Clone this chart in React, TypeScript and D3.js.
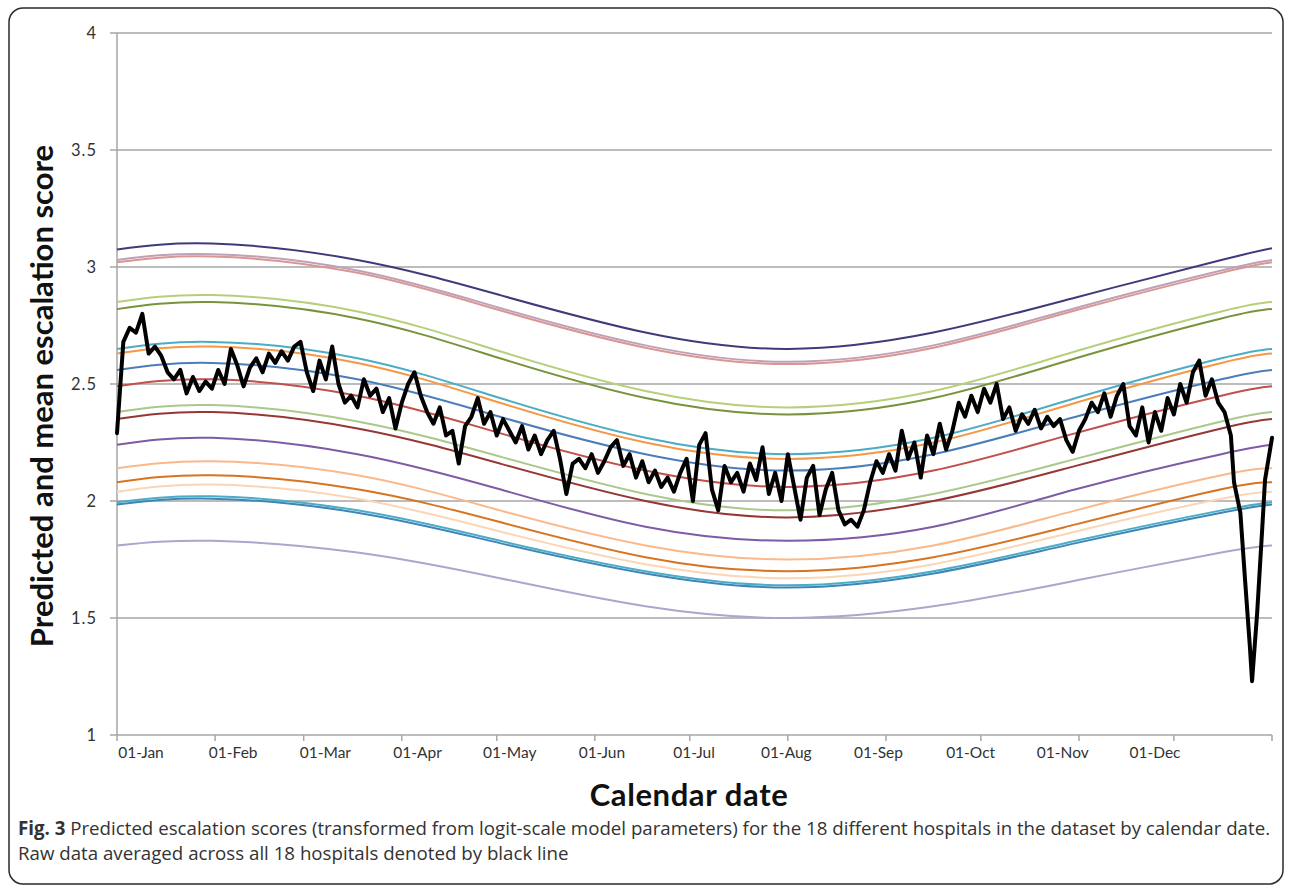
import * as d3 from 'd3';

const WIDTH = 1290;
const HEIGHT = 890;
const PLOT = { left: 117, right: 1272, top: 33, bottom: 735 };

// x axis: day of year, ticks at month starts, labels spread evenly
const MONTH_START_DAYS = [0, 31, 59, 90, 120, 151, 181, 212, 243, 273, 304, 334, 365];
const MONTH_LABELS = ['01-Jan', '01-Feb', '01-Mar', '01-Apr', '01-May', '01-Jun', '01-Jul', '01-Aug', '01-Sep', '01-Oct', '01-Nov', '01-Dec'];

const Y_TICKS = [1, 1.5, 2, 2.5, 3, 3.5, 4];
const Y_TICK_LABELS = ['1', '1.5', '2', '2.5', '3', '3.5', '4'];

// hospital curves sampled at these days
const HOSPITAL_DAYS = [0, 30, 76, 121, 167, 212, 258, 303, 349, 365];

const HOSPITAL_COLORS = [
  '#3f3b7b', '#bfa0b4', '#d99694', '#b5cf7a', '#77933c', '#4bacc6',
  '#f79646', '#4a7ebb', '#c0504d', '#a9c98a', '#953735', '#7f5aa6',
  '#f9b98a', '#d8731f', '#fcd5b5', '#4bacc6', '#3f86b8', '#aaa6cc',
];

const HOSPITAL_SCORES = [
  [3.075, 3.10, 3.03, 2.88, 2.72, 2.65, 2.72, 2.87, 3.03, 3.08],
  [3.03, 3.055, 2.985, 2.825, 2.665, 2.595, 2.665, 2.825, 2.985, 3.03],
  [3.02, 3.045, 2.975, 2.815, 2.655, 2.585, 2.655, 2.815, 2.975, 3.02],
  [2.85, 2.88, 2.81, 2.64, 2.47, 2.40, 2.47, 2.64, 2.81, 2.85],
  [2.82, 2.85, 2.78, 2.61, 2.44, 2.37, 2.44, 2.61, 2.78, 2.82],
  [2.65, 2.68, 2.61, 2.44, 2.27, 2.20, 2.27, 2.44, 2.61, 2.65],
  [2.63, 2.66, 2.59, 2.42, 2.25, 2.18, 2.25, 2.42, 2.59, 2.63],
  [2.56, 2.59, 2.52, 2.36, 2.20, 2.13, 2.20, 2.36, 2.52, 2.56],
  [2.49, 2.52, 2.45, 2.29, 2.13, 2.06, 2.13, 2.29, 2.45, 2.49],
  [2.38, 2.41, 2.34, 2.19, 2.03, 1.96, 2.03, 2.18, 2.34, 2.38],
  [2.35, 2.38, 2.31, 2.16, 2.00, 1.93, 2.00, 2.15, 2.31, 2.35],
  [2.24, 2.27, 2.20, 2.05, 1.89, 1.83, 1.89, 2.05, 2.20, 2.24],
  [2.14, 2.17, 2.11, 1.96, 1.81, 1.75, 1.81, 1.96, 2.11, 2.14],
  [2.08, 2.11, 2.05, 1.91, 1.76, 1.70, 1.76, 1.90, 2.05, 2.08],
  [2.04, 2.07, 2.01, 1.87, 1.73, 1.67, 1.73, 1.87, 2.01, 2.04],
  [1.995, 2.02, 1.96, 1.83, 1.70, 1.64, 1.70, 1.83, 1.96, 1.995],
  [1.985, 2.01, 1.95, 1.82, 1.69, 1.63, 1.69, 1.82, 1.95, 1.985],
  [1.81, 1.83, 1.78, 1.67, 1.55, 1.50, 1.55, 1.66, 1.78, 1.81],
];

// raw mean across hospitals: [day, score]
const RAW_MEAN: [number, number][] = [
  [0, 2.29], [2, 2.68], [4, 2.74], [6, 2.72], [8, 2.80], [10, 2.63], [12, 2.66], [14, 2.62],
  [16, 2.55], [18, 2.52], [20, 2.56], [22, 2.46], [24, 2.53], [26, 2.47], [28, 2.51], [30, 2.48],
  [32, 2.56], [34, 2.50], [36, 2.65], [38, 2.58], [40, 2.49], [42, 2.57], [44, 2.61], [46, 2.55],
  [48, 2.63], [50, 2.59], [52, 2.64], [54, 2.60], [56, 2.66], [58, 2.68], [60, 2.55], [62, 2.47],
  [64, 2.60], [66, 2.52], [68, 2.66], [70, 2.50], [72, 2.42], [74, 2.45], [76, 2.40], [78, 2.52],
  [80, 2.45], [82, 2.48], [84, 2.38], [86, 2.44], [88, 2.31], [90, 2.42], [92, 2.50], [94, 2.55],
  [96, 2.45], [98, 2.38], [100, 2.33], [102, 2.40], [104, 2.28], [106, 2.30], [108, 2.16], [110, 2.32],
  [112, 2.36], [114, 2.44], [116, 2.33], [118, 2.38], [120, 2.28], [122, 2.35], [124, 2.30], [126, 2.25],
  [128, 2.32], [130, 2.22], [132, 2.28], [134, 2.20], [136, 2.26], [138, 2.30], [140, 2.18], [142, 2.03],
  [144, 2.16], [146, 2.18], [148, 2.14], [150, 2.20], [152, 2.12], [154, 2.17], [156, 2.23], [158, 2.26],
  [160, 2.15], [162, 2.20], [164, 2.10], [166, 2.17], [168, 2.08], [170, 2.13], [172, 2.06], [174, 2.10],
  [176, 2.04], [178, 2.12], [180, 2.18], [182, 2.00], [184, 2.24], [186, 2.29], [188, 2.05], [190, 1.96],
  [192, 2.15], [194, 2.08], [196, 2.12], [198, 2.04], [200, 2.16], [202, 2.09], [204, 2.23], [206, 2.03],
  [208, 2.12], [210, 2.00], [212, 2.20], [214, 2.06], [216, 1.92], [218, 2.10], [220, 2.15], [222, 1.94],
  [224, 2.05], [226, 2.12], [228, 1.96], [230, 1.90], [232, 1.92], [234, 1.89], [236, 1.96], [238, 2.08],
  [240, 2.17], [242, 2.12], [244, 2.20], [246, 2.13], [248, 2.30], [250, 2.18], [252, 2.25], [254, 2.10],
  [256, 2.28], [258, 2.20], [260, 2.33], [262, 2.22], [264, 2.30], [266, 2.42], [268, 2.36], [270, 2.45],
  [272, 2.38], [274, 2.48], [276, 2.42], [278, 2.50], [280, 2.35], [282, 2.40], [284, 2.30], [286, 2.37],
  [288, 2.33], [290, 2.39], [292, 2.31], [294, 2.36], [296, 2.32], [298, 2.35], [300, 2.26], [302, 2.21],
  [304, 2.30], [306, 2.35], [308, 2.42], [310, 2.38], [312, 2.46], [314, 2.36], [316, 2.45], [318, 2.50],
  [320, 2.32], [322, 2.28], [324, 2.40], [326, 2.25], [328, 2.38], [330, 2.30], [332, 2.44], [334, 2.37],
  [336, 2.50], [338, 2.42], [340, 2.55], [342, 2.60], [344, 2.45], [346, 2.52], [348, 2.42], [350, 2.38],
  [352, 2.28], [353, 2.08], [355, 1.95], [356.5, 1.66], [358, 1.38], [358.7, 1.23], [360.3, 1.52],
  [361.9, 1.88], [362.8, 2.09], [365, 2.27],
];

const CHART_FONT = 'Lato, "Open Sans", sans-serif';
const CAPTION_FONT = '"Open Sans", "Noto Sans", sans-serif';

export default function App() {
  const x = d3.scaleLinear().domain([0, 365]).range([PLOT.left, PLOT.right]);
  const y = d3.scaleLinear().domain([1, 4]).range([PLOT.bottom, PLOT.top]);
  const labelX = d3.scalePoint<string>().domain(MONTH_LABELS).range([141, 1155]);

  const hospitalLine = d3.line<number>()
    .x((_, i) => x(HOSPITAL_DAYS[i]))
    .y((d) => y(d))
    .curve(d3.curveNatural);

  const rawLine = d3.line<[number, number]>()
    .x((d) => x(d[0]))
    .y((d) => y(d[1]));

  return (
    <div style={{ position: 'absolute', left: 0, top: 0 }}>
      <svg width={WIDTH} height={HEIGHT} style={{ display: 'block', background: '#fff' }}>
        {/* outer frame */}
        <rect x={9} y={8} width={1274} height={876} rx={14} fill="none" stroke="#2a2a2a" strokeWidth={1.5} />

        {/* gridlines */}
        {Y_TICKS.map((t) => (
          <line key={t} x1={PLOT.left - 7} x2={PLOT.right} y1={y(t)} y2={y(t)}
            stroke="#a6a6a6" strokeWidth={1.5} />
        ))}
        {/* y axis */}
        <line x1={PLOT.left} x2={PLOT.left} y1={PLOT.top} y2={PLOT.bottom} stroke="#a6a6a6" strokeWidth={1.5} />
        {Y_TICKS.map((t, i) => (
          <text key={t} x={97} y={y(t) + 5.5} textAnchor="end" fontFamily={CHART_FONT}
            fontSize={16.5} fill="#333" letterSpacing={1}>{Y_TICK_LABELS[i]}</text>
        ))}

        {/* x axis ticks */}
        {MONTH_START_DAYS.map((d) => (
          <line key={d} x1={x(d)} x2={x(d)} y1={PLOT.bottom} y2={PLOT.bottom + 6}
            stroke="#a6a6a6" strokeWidth={1.5} />
        ))}
        {MONTH_LABELS.map((m) => (
          <text key={m} x={labelX(m)} y={758} textAnchor="middle" fontFamily={CHART_FONT}
            fontSize={15.5} fill="#333">{m}</text>
        ))}

        {/* hospital curves */}
        {HOSPITAL_SCORES.map((s, i) => (
          <path key={i} d={hospitalLine(s) ?? ''} fill="none" stroke={HOSPITAL_COLORS[i]}
            strokeWidth={2} />
        ))}

        {/* raw data mean */}
        <path d={rawLine(RAW_MEAN) ?? ''} fill="none" stroke="#000" strokeWidth={4}
          strokeLinejoin="round" strokeLinecap="round" />

        {/* axis titles */}
        <text transform={`translate(53,${(PLOT.top + PLOT.bottom) / 2 + 12}) rotate(-90)`}
          textAnchor="middle" fontFamily={CHART_FONT} fontWeight="bold" fontSize={31} fill="#111">
          Predicted and mean escalation score
        </text>
        <text x={689} y={806} textAnchor="middle" fontFamily={CHART_FONT} fontWeight="bold"
          fontSize={31} letterSpacing={0.6} fill="#111">Calendar date</text>

        {/* caption */}
        <text x={18} y={835} fontFamily={CAPTION_FONT} fontSize={18.7} fill="#333">
          <tspan fontWeight="bold">Fig. 3</tspan>
          {' Predicted escalation scores (transformed from logit-scale model parameters) for the 18 different hospitals in the dataset by calendar date.'}
        </text>
        <text x={18} y={860} fontFamily={CAPTION_FONT} fontSize={18.7} fill="#333">
          Raw data averaged across all 18 hospitals denoted by black line
        </text>
      </svg>
    </div>
  );
}
